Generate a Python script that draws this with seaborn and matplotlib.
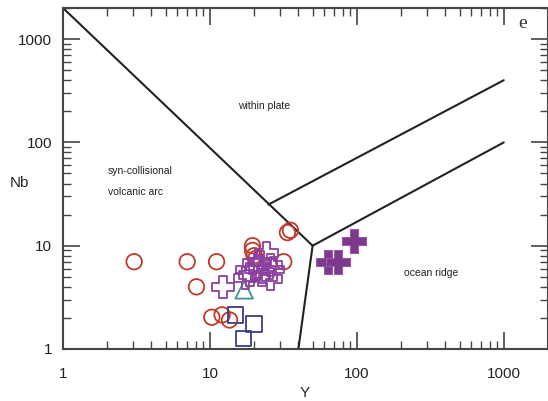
import numpy as np
import pandas as pd
import matplotlib
matplotlib.use("Agg")
import matplotlib.pyplot as plt
import seaborn as sns
from matplotlib.ticker import LogLocator, NullFormatter, FixedLocator, FixedFormatter

sns.set_style("ticks")
plt.rcParams['font.family'] = ['Liberation Sans', 'DejaVu Sans']

# ---- data ----
circle_Y  = [3.05, 7.0, 11.1, 8.1, 10.3, 12.1, 13.6, 19.5, 19.5, 20.0, 20.5, 33.7, 35.3, 31.8]
circle_Nb = [7.0, 7.0, 7.0, 4.0, 2.03, 2.14, 1.91, 10.0, 9.0, 8.0, 7.5, 13.4, 14.1, 7.0]

square_Y  = [14.9, 20.0, 16.9]
square_Nb = [2.14, 1.75, 1.27]

triangle_Y  = [17.1]
triangle_Nb = [3.74]

opencross_Y  = [12.3, 24.2, 22.0, 25.8, 17.9, 20.6, 23.8, 27.0, 18.8, 22.6, 25.8, 17.4, 21.1]
opencross_Nb = [4.0, 8.5, 7.0, 6.5, 5.85, 5.85, 5.85, 5.85, 5.2, 5.2, 4.75, 4.85, 6.3]

fillcross_Y  = [95, 64, 75]
fillcross_Nb = [11.0, 7.0, 7.0]

# boundary lines (Pearce et al. 1984)
b1_Y, b1_Nb = [1, 50], [2000, 10]
b2_Y, b2_Nb = [50, 40], [10, 1]
b3_Y, b3_Nb = [50, 1000], [10, 100]
b4_Y, b4_Nb = [25, 1000], [25, 400]

field_labels = ["within plate", "syn-collisional", "volcanic arc", "ocean ridge"]
field_Y  = [15.6, 2.03, 2.03, 209]
field_Nb = [224, 53, 33, 5.5]

ticks = [1, 10, 100, 1000]
tick_labels = ["1", "10", "100", "1000"]

# ---- figure ----
fig = plt.figure(figsize=(5.48, 4.01), dpi=100)
ax = fig.add_axes([63/548, 1-349/401, 1-63/548, (349-8)/401])

for (xs, ys) in [(b1_Y, b1_Nb), (b2_Y, b2_Nb), (b3_Y, b3_Nb), (b4_Y, b4_Nb)]:
    sns.lineplot(x=xs, y=ys, ax=ax, color="#222222", linewidth=1.5, sort=False, estimator=None)

sns.scatterplot(x=circle_Y, y=circle_Nb, ax=ax, marker='o', s=125,
                facecolor='none', edgecolor='#c0392b', linewidth=1.3, zorder=3)
sns.scatterplot(x=square_Y, y=square_Nb, ax=ax, marker='s', s=125,
                facecolor='none', edgecolor='#3b3b8c', linewidth=1.3, zorder=3)
sns.scatterplot(x=triangle_Y, y=triangle_Nb, ax=ax, marker='^', s=160,
                facecolor='none', edgecolor='#3f9490', linewidth=1.3, zorder=3)
sns.scatterplot(x=opencross_Y, y=opencross_Nb, ax=ax, marker='P', s=260,
                facecolor='none', edgecolor='#8e3fa0', linewidth=1.3, zorder=4)
sns.scatterplot(x=fillcross_Y, y=fillcross_Nb, ax=ax, marker='P', s=280,
                facecolor='#7b3a8c', edgecolor='#9a5aa8', linewidth=0.8, zorder=4)

for t, xx, yy in zip(field_labels, field_Y, field_Nb):
    ax.text(xx, yy, t, fontsize=7.5, ha='left', va='center', color='#222222')
ax.text(1350, 1430, "e", fontsize=14, ha='center', va='center', color='#333333',
        family=['Liberation Serif', 'DejaVu Serif'])

ax.set_xscale('log')
ax.set_yscale('log')
ax.set_xlim(1, 2000)
ax.set_ylim(1, 2000)
ax.xaxis.set_major_locator(FixedLocator(ticks))
ax.xaxis.set_major_formatter(FixedFormatter(tick_labels))
ax.yaxis.set_major_locator(FixedLocator(ticks))
ax.yaxis.set_major_formatter(FixedFormatter(tick_labels))
for axis in (ax.xaxis, ax.yaxis):
    axis.set_minor_locator(LogLocator(base=10, subs=np.arange(2, 10), numticks=20))
    axis.set_minor_formatter(NullFormatter())

ax.tick_params(which='both', direction='in', top=True, right=True, colors='#444444',
               labelcolor='#222222', labelsize=11)
ax.tick_params(which='major', length=12, width=1.2)
ax.tick_params(axis='x', which='major', pad=13)
ax.tick_params(axis='y', which='major', pad=8)
ax.tick_params(which='minor', length=6, width=1.0)
for sp in ax.spines.values():
    sp.set_color('#444444')
    sp.set_linewidth(1.5)

ax.set_xlabel("Y", fontsize=11, va='center')
ax.set_ylabel("Nb", fontsize=11, rotation=0, va='center', ha='center')
ax.yaxis.set_label_coords(-0.089, 0.487)
ax.xaxis.set_label_coords(0.499, -0.129)

fig.savefig("out.png", dpi=100)
